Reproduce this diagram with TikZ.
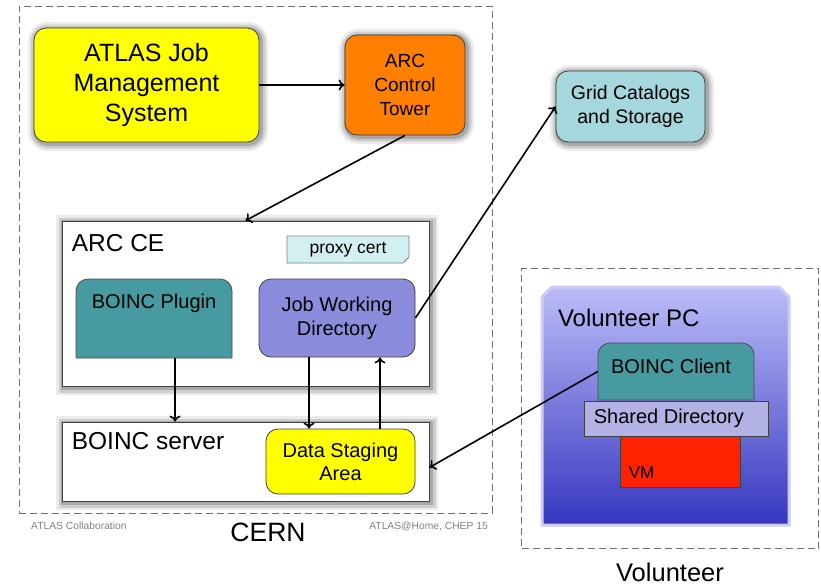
\documentclass[tikz,border=0pt]{standalone}
\usepackage{fontspec}
\setmainfont{Liberation Sans}
\usetikzlibrary{arrows.meta,shapes.misc}

\definecolor{jobyellow}{HTML}{FFFF00}
\definecolor{ctorange}{HTML}{FF7F00}
\definecolor{plugteal}{HTML}{469AA0}
\definecolor{jwdblue}{HTML}{8C8CDC}
\definecolor{proxycyan}{HTML}{D2F0F2}
\definecolor{gridcyan}{HTML}{A4D8DC}
\definecolor{sharedlav}{HTML}{B2B2E4}
\definecolor{vmred}{HTML}{FF2200}
\definecolor{pctop}{HTML}{BCBCF8}
\definecolor{pcbottom}{HTML}{3636C0}
\definecolor{pcedge}{HTML}{CCCCF6}
\definecolor{framegray}{HTML}{707070}

\tikzset{
  box/.style={draw=black!75, line width=0.8pt, align=center, inner sep=0pt},
  roundbox/.style={box, rounded corners=12pt},
  softshadow/.style={
    preaction={draw=black, opacity=0.08, line width=15pt, transform canvas={xshift=1.5pt,yshift=-1.5pt}},
    preaction={draw=black, opacity=0.12, line width=10pt, transform canvas={xshift=1.5pt,yshift=-1.5pt}},
    preaction={draw=black, opacity=0.18, line width=5pt, transform canvas={xshift=1.5pt,yshift=-1.5pt}}},
  flow/.style={line width=1.6pt, -{To[length=6pt,width=11pt]}},
  site/.style={draw=framegray, line width=1pt, dash pattern=on 7pt off 4pt, inner sep=0pt},
  boxtitle/.style={anchor=north west, inner sep=0pt},
}

\begin{document}
\begin{tikzpicture}[x=1pt, y=-1pt]
    \useasboundingbox (0,0) rectangle (821,587);

    % the two sites
    \node[site, minimum width=473pt, minimum height=507pt] (cern) at (255.5,259.5) {};
    \node[site, minimum width=297pt, minimum height=280pt] (vol) at (670,408.5) {};
    \node[inner sep=0pt, font=\fontsize{26.5}{30}\selectfont] (cernname) at (268,532) {CERN};
    \node[inner sep=0pt, font=\fontsize{25.5}{30}\selectfont] (volname) at (670,572) {Volunteer};
    \node[inner sep=0pt, anchor=west, text=gray, font=\fontsize{10.3}{12}\selectfont] (footl) at (31,526) {ATLAS Collaboration};
    \node[inner sep=0pt, anchor=east, text=gray, font=\fontsize{10.3}{12}\selectfont] (footr) at (488,526) {ATLAS@Home, CHEP 15};

    % job management
    \node[roundbox, softshadow, fill=jobyellow, minimum width=225pt, minimum height=114pt,
      font=\fontsize{25}{30}\selectfont] (ajms) at (146.5,85) {ATLAS Job\\Management\\System};
    \node[roundbox, softshadow, fill=ctorange, minimum width=120pt, minimum height=100pt,
      font=\fontsize{19}{24}\selectfont] (arcct) at (405,85) {ARC\\Control\\Tower};
    \node[roundbox, softshadow, fill=gridcyan, minimum width=149pt, minimum height=71pt,
      font=\fontsize{19.5}{24}\selectfont] (grid) at (630.5,106.5) {Grid Catalogs\\and Storage};

    % ARC CE
    \node[box, softshadow, fill=white, minimum width=367pt, minimum height=165pt,
      label={[boxtitle, xshift=10pt, yshift=-14pt, font=\fontsize{24.5}{28}\selectfont]north west:ARC CE}]
      (arcce) at (245.5,303.5) {};
    \node[box, fill=proxycyan, draw=black!50, chamfered rectangle, chamfered rectangle corners=south east,
      chamfered rectangle xsep=3pt, chamfered rectangle ysep=3pt, minimum width=122pt, minimum height=27pt,
      font=\fontsize{17.5}{20}\selectfont] (proxy) at (348,249.5) {proxy cert};
    \draw[draw=black!70, fill=plugteal, line width=0.8pt]
      (76,358) [rounded corners=12pt] -- (76,279) -- (232,279) [sharp corners] -- (232,358) -- cycle;
    \node[minimum width=156pt, minimum height=79pt, inner sep=0pt,
      label={[anchor=north, inner sep=0pt, yshift=-15pt, font=\fontsize{20}{24}\selectfont]north:BOINC Plugin}]
      (plugin) at (154,318.5) {};
    \node[roundbox, fill=jwdblue, minimum width=156pt, minimum height=78pt,
      font=\fontsize{20}{24}\selectfont] (jwd) at (337,318) {Job Working\\Directory};

    % BOINC server
    \node[box, softshadow, fill=white, minimum width=367pt, minimum height=79pt,
      label={[boxtitle, xshift=10pt, yshift=-11pt, font=\fontsize{24.5}{28}\selectfont]north west:BOINC server}]
      (server) at (245.5,461.5) {};
    \node[roundbox, fill=jobyellow, minimum width=149pt, minimum height=65pt,
      font=\fontsize{20}{23}\selectfont] (dsa) at (340.5,461.5) {Data Staging\\Area};

    % volunteer machine
    \draw[draw=pcedge, line width=3pt, top color=pctop, bottom color=pcbottom]
      (542,525) -- (542,297) -- (552,287) -- (779,287) -- (789,297) -- (789,525) -- cycle;
    \node[minimum width=247pt, minimum height=238pt, inner sep=0pt,
      label={[boxtitle, xshift=16pt, yshift=-22pt, font=\fontsize{24}{28}\selectfont]north west:Volunteer PC}]
      (pc) at (665.5,406) {};
    \draw[draw=black!70, fill=plugteal, line width=0.8pt]
      (598,400) [rounded corners=12pt] -- (598,343) -- (754,343) [sharp corners] -- (754,400) -- cycle;
    \node[minimum width=156pt, minimum height=57pt, inner sep=0pt,
      label={[boxtitle, xshift=13pt, yshift=-16pt, font=\fontsize{20}{24}\selectfont]north west:BOINC Client}]
      (client) at (676,371.5) {};
    \node[box, fill=vmred, minimum width=120pt, minimum height=51pt,
      label={[anchor=south west, inner sep=0pt, xshift=9pt, yshift=9pt, font=\fontsize{17}{20}\selectfont]south west:VM}]
      (vm) at (680,461.5) {};
    \node[box, fill=sharedlav, minimum width=184pt, minimum height=35pt,
      label={[anchor=west, inner sep=0pt, xshift=10pt, font=\fontsize{20}{24}\selectfont]west:Shared Directory}]
      (shared) at (676,418.5) {};

    % flows
    \draw[flow] (ajms.east) -- (arcct.west);
    \draw[flow] (arcct.south) -- (arcce.north);
    \draw[flow] (jwd.east) -- (grid.west);
    \draw[flow] ([xshift=21pt]plugin.south) -- ([xshift=21pt]plugin.south |- server.north);
    \draw[flow] ([xshift=-28pt]jwd.south) -- ([xshift=-28pt]jwd.south |- dsa.north);
    \draw[flow] ([xshift=39.5pt]dsa.north) -- ([xshift=39.5pt]dsa.north |- jwd.south);
    \draw[flow] (client.west) -- ([yshift=-6pt]server.east);
\end{tikzpicture}
\end{document}
